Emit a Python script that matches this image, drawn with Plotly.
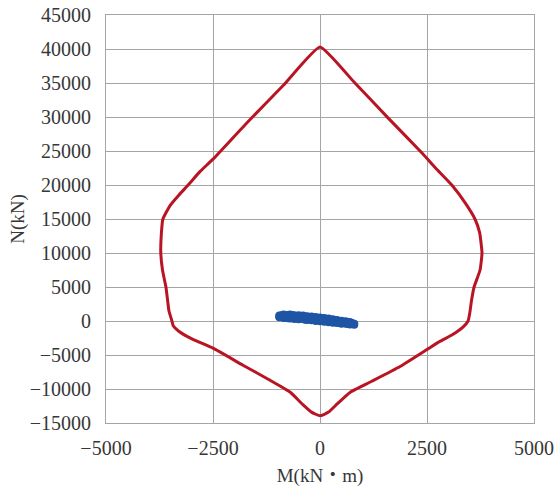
import plotly.graph_objects as go

# M-N interaction curve (closed)
curve_m = [0, 800, 1600, 2400, 2700, 3080, 3400, 3620, 3730, 3785, 3740, 3600, 3540,
           3500, 3460, 3340, 3100, 2800, 2500, 1870, 1200, 700, 400, 200, 0,
           -200, -400, -700, -1200, -1800, -2500, -2970, -3300, -3430, -3460,
           -3530, -3560, -3600, -3680, -3720, -3710, -3670, -3500, -3300, -3080,
           -2800, -2500, -1700, -850, 0]
curve_n = [40300, 35100, 29800, 24600, 22500, 20000, 17300, 15000, 13000, 10000, 7500,
           5000, 3000, 1200, 0, -900, -2000, -3000, -4200, -6700, -8900, -10500,
           -12200, -13400, -13950, -13400, -12300, -10450, -8600, -6500, -4000,
           -2700, -1500, -700, 0, 1500, 3000, 5000, 7500, 10000, 12500, 15000,
           17000, 18500, 20000, 22000, 23800, 29200, 34700, 40300]

# design loads (blue cloud)
load_m = [-950, -950, -950, -900, -900, -850, -850, -850, -800, -800, -800,
          -750, -750, -700, -700, -700, -650, -650, -650, -600, -600, -600,
          -550, -550, -500, -500, -500, -450, -450, -400, -400, -400, -350, -350,
          -300, -300, -300, -250, -250, -200, -200, -200, -150, -150, -100, -100,
          -100, -50, -50, 0, 0, 0, 50, 50, 100, 100, 100, 150, 150, 200, 200, 200,
          250, 250, 300, 300, 300, 350, 350, 400, 400, 400, 450, 450, 500, 500,
          500, 550, 550, 600, 600, 600, 650, 650, 700, 700, 700, 750, 750, 800, 800]
load_n = [700, 550, 800, 850, 600, 750, 450, 950, 650, 900, 500,
          800, 400, 950, 600, 350, 700, 450, 900, 550, 850, 300,
          700, 400, 850, 500, 250, 650, 400, 800, 300, 550, 650, 200,
          450, 700, 150, 550, 300, 650, 100, 400, 500, 250, 600, 0,
          350, 400, 150, 500, -50, 250, 350, 100, 450, -100, 200, 300, 0, 350, -200, 100,
          200, -100, 250, -250, 0, 100, -200, 150, -300, -100, 0, -250, 50, -400,
          -150, -100, -300, -50, -400, -250, -200, -450, -150, -350, -500, -300, -450, -400, -550]

red = "rgb(185,20,35)"
blue = "rgb(30,85,165)"
grid = "rgb(165,165,165)"
font_family = "Liberation Serif, Noto Sans CJK JP, serif"

fig = go.Figure()
fig.add_trace(go.Scatter(x=curve_m, y=curve_n, mode="lines",
                         line=dict(color=red, width=3, shape="spline", smoothing=0.4),
                         showlegend=False))
fig.add_trace(go.Scatter(x=load_m, y=load_n, mode="markers",
                         marker=dict(color=blue, size=8),
                         showlegend=False))

fig.update_layout(
    width=557, height=495,
    margin=dict(l=106, r=23, t=15, b=72),
    plot_bgcolor="white", paper_bgcolor="white",
    font=dict(family=font_family, size=20, color="rgb(55,55,55)"),
)
fig.update_xaxes(range=[-5000, 5000], tickvals=[-5000, -2500, 0, 2500, 5000],
                 tickformat="d", automargin=False, ticklabeloverflow="allow",
                 ticklabelstandoff=7,
                 showgrid=True, gridcolor=grid, gridwidth=1, zeroline=False,
                 showline=True, linecolor=grid, linewidth=1, mirror=True,
                 ticks="", ticklen=0,
                 title=dict(text="M(kN・m)", font=dict(size=19), standoff=10))
fig.update_yaxes(range=[-15000, 45000], dtick=5000, tickformat="d",
                 automargin=False, ticklabeloverflow="allow",
                 ticklabelstandoff=10,
                 showgrid=True, gridcolor=grid, gridwidth=1, zeroline=False,
                 showline=True, linecolor=grid, linewidth=1, mirror=True,
                 ticks="", ticklen=0,
                 title=dict(text="N(kN)", font=dict(size=19), standoff=0))

# drop the default page margin so the figure fills the window exactly
fig.write_html("out.html", config={"displayModeBar": False},
               post_script="document.body.style.margin='0';")
